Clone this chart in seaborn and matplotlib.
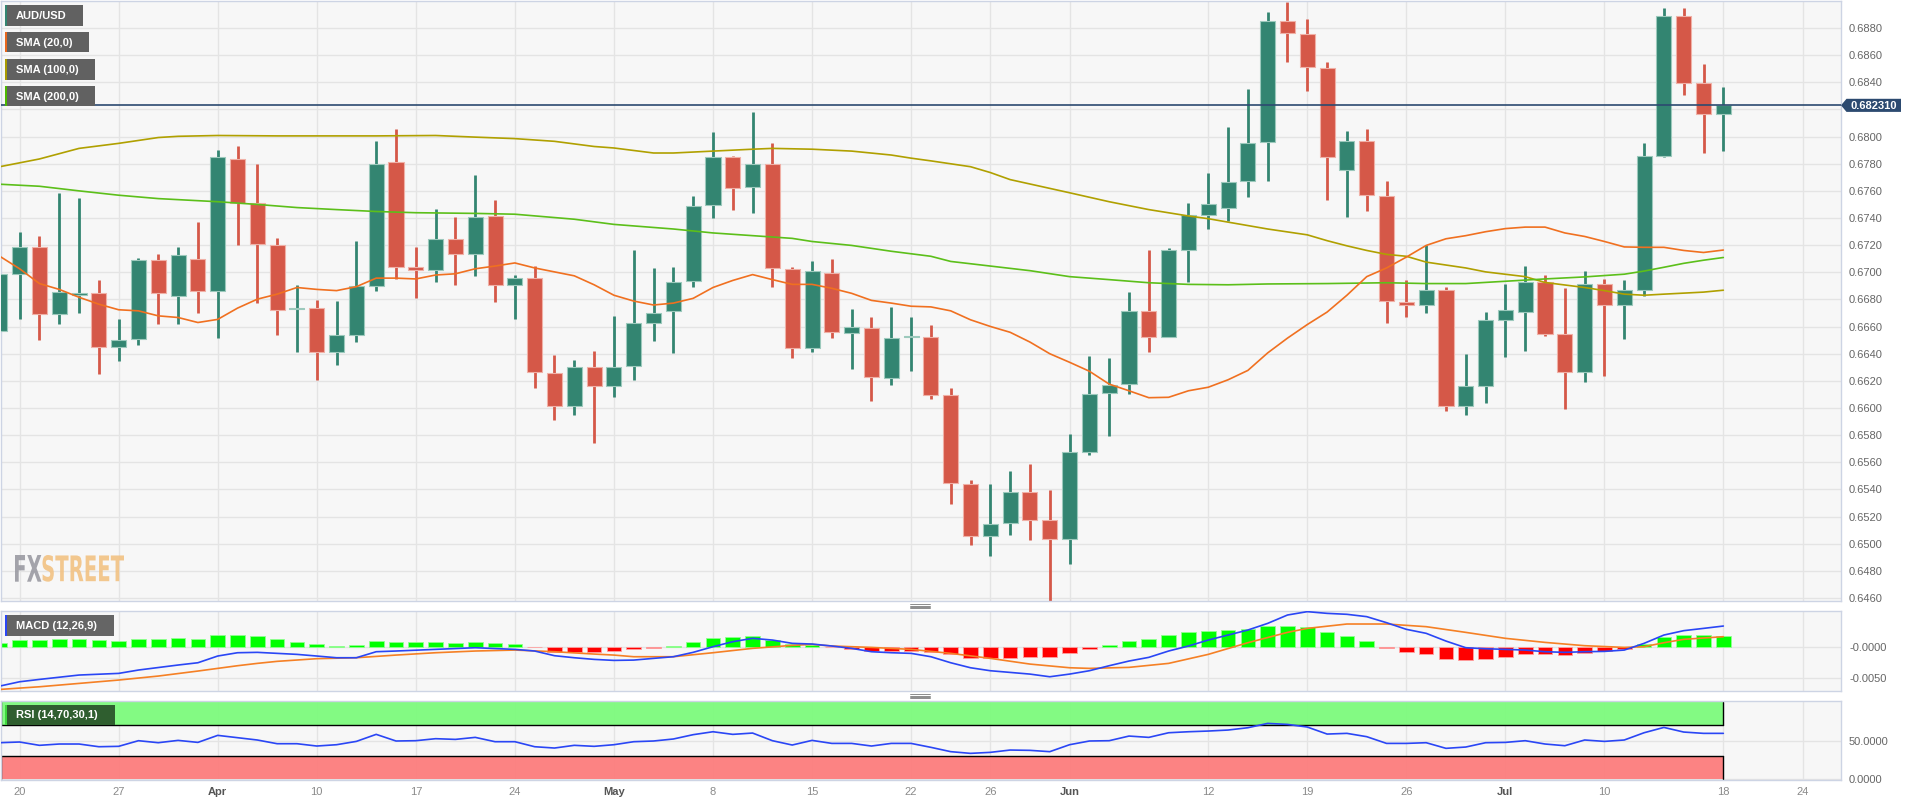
import matplotlib
matplotlib.use("Agg")
import matplotlib.pyplot as plt
import numpy as np
import pandas as pd
import seaborn as sns
from matplotlib.patches import Rectangle, Polygon, PathPatch
from matplotlib.textpath import TextPath
from matplotlib.font_manager import FontProperties
from matplotlib.transforms import Affine2D

# ---- data (AUD/USD daily, 17 Mar - 18 Jul 2023) ----
dates = pd.bdate_range("2023-03-17", "2023-07-18")

opens = [.66564, .66989, .67187, .66693, .66832, .66845, .66449, .66506, .67092, .66825,
         .67098, .66859, .67835, .67514, .67201, .66726, .66736, .66412, .66535, .66902,
         .67812, .67037, .67014, .67247, .67138, .67416, .66908, .66957, .66257, .66013,
         .66305, .66162, .66308, .66630, .66716, .66934, .67497, .67847, .67626, .67795,
         .67026, .66443, .66994, .66552, .66592, .66222, .66520, .66524, .66096, .65438,
         .65057, .65151, .65381, .65174, .65034, .65674, .66107, .66179, .66716, .66526,
         .67167, .67425, .67477, .67672, .67962, .68849, .68754, .68507, .67752, .67965,
         .67560, .66779, .66756, .66868, .66013, .66165, .66650, .66704, .66925, .66549,
         .66262, .66914, .66756, .66868, .67858, .68892, .68392, .68166]
highs = [.67238, .67299, .67264, .67586, .67548, .66940, .66658, .67103, .67132, .67184,
         .67373, .67899, .67927, .67801, .67250, .66908, .66796, .66788, .67233, .67965,
         .68059, .67190, .67468, .67411, .67715, .67534, .66983, .67046, .66392, .66357,
         .66423, .66681, .67167, .67035, .67040, .67563, .68031, .67858, .68180, .67956,
         .67040, .67083, .67095, .66730, .66673, .66747, .66673, .66615, .66150, .65467,
         .65438, .65533, .65588, .65395, .65812, .66386, .66371, .66854, .67167, .67180,
         .67508, .67735, .68071, .68352, .68921, .68989, .68869, .68547, .68042, .68059,
         .67675, .66940, .67204, .66894, .66400, .66710, .66917, .67049, .66983, .66882,
         .67006, .66954, .66946, .67956, .68949, .68949, .68533, .68369]
lows = [.66463, .66658, .66498, .66618, .66702, .66248, .66343, .66463, .66618, .66618,
        .66702, .66515, .67204, .66773, .66535, .66412, .66205, .66314, .66486, .66859,
        .66951, .66808, .66931, .66908, .66974, .66779, .66653, .66148, .65912, .65949,
        .65740, .66079, .66205, .66492, .66406, .66888, .67399, .67462, .67439, .66888,
        .66366, .66414, .66515, .66291, .66050, .66170, .66271, .66070, .65295, .64988,
        .64907, .65065, .65031, .64577, .64850, .65654, .65797, .66102, .66414, .66520,
        .66925, .67319, .67376, .67554, .67672, .68553, .68338, .67531, .67411, .67454,
        .66624, .66673, .66699, .65975, .65952, .66036, .66377, .66417, .66529, .65990,
        .66193, .66236, .66506, .66825, .67850, .68306, .67879, .67893]
closes = [.66989, .67187, .66693, .66854, .66840, .66449, .66501, .67092, .66845, .67126,
          .66859, .67850, .67514, .67210, .66722, .66734, .66412, .66535, .66902, .67798,
          .67037, .67014, .67247, .67138, .67411, .66908, .66957, .66262, .66013, .66305,
          .66162, .66305, .66630, .66699, .66928, .67491, .67847, .67623, .67795, .67032,
          .66443, .67009, .66558, .66595, .66228, .66515, .66528, .66099, .65444, .65057,
          .65146, .65381, .65177, .65034, .65674, .66102, .66170, .66716, .66526, .67161,
          .67419, .67505, .67669, .67956, .68849, .68760, .68510, .67853, .67967, .67566,
          .66785, .66756, .66868, .66013, .66165, .66650, .66725, .66925, .66549, .66262,
          .66914, .66756, .66868, .67858, .68892, .68395, .68166, .68231]
last_price = 0.682310

sma20_x = list(range(88))
sma20_y = [.67118, .67026, .66917, .66874, .66816, .66765, .66724, .66716, .66679, .66667,
           .66630, .66653, .66736, .66802, .66839, .66888, .66874, .66865, .66894, .66957,
           .66957, .66951, .66980, .66989, .67026, .67046, .67069, .67032, .67003, .66974,
           .66908, .66831, .66788, .66759, .66773, .66808, .66888, .66940, .66983, .66946,
           .66911, .66911, .66882, .66845, .66793, .66773, .66750, .66745, .66716, .66650,
           .66601, .66558, .66486, .66400, .66337, .66271, .66176, .66127, .66076, .66079,
           .66127, .66153, .66208, .66277, .66406, .66515, .66615, .66707, .66831, .66968,
           .67032, .67112, .67198, .67247, .67270, .67299, .67322, .67333, .67333, .67290,
           .67264, .67227, .67187, .67184, .67184, .67161, .67146, .67164]

sma100_x = [0, 2, 4, 6, 8, 9, 11, 14, 17, 19, 22, 24, 26, 28, 30, 31, 33, 34, 36, 38,
            39, 41, 43, 45, 46, 47, 49, 50, 51, 54, 56, 58, 60, 61, 64, 66, 67, 68, 69, 70,
            71, 72, 74, 75, 77, 78, 80, 81, 82, 83, 84, 86, 87]
sma100_y = [.67778, .67835, .67913, .67950, .67993, .68002, .68008, .68005, .68005, .68005,
            .68008, .67996, .67985, .67965, .67927, .67916, .67879, .67879, .67893, .67907,
            .67913, .67907, .67893, .67864, .67841, .67821, .67778, .67735, .67683, .67586,
            .67520, .67462, .67415, .67395, .67319, .67276, .67233, .67195, .67161, .67132,
            .67118, .67075, .67032, .67003, .66968, .66925, .66888, .66865, .66839, .66831,
            .66839, .66854, .66868]

sma200_x = [0, 2, 4, 6, 8, 11, 13, 15, 17, 19, 21, 24, 26, 29, 31, 34, 36, 38, 40, 41,
            43, 45, 47, 48, 50, 52, 54, 56, 58, 60, 62, 64, 67, 70, 72, 74, 76, 78, 80, 82,
            83, 84, 85, 86, 87]
sma200_y = [.67649, .67634, .67600, .67568, .67543, .67520, .67500, .67477, .67462, .67448,
            .67439, .67434, .67428, .67391, .67353, .67319, .67290, .67270, .67250, .67227,
            .67198, .67155, .67118, .67080, .67046, .67012, .66968, .66946, .66923, .66911,
            .66908, .66914, .66917, .66923, .66917, .66917, .66934, .66951, .66966, .66986,
            .67009, .67037, .67066, .67089, .67109]

macd_hist = [.00053, .00105, .00105, .00116, .00121, .00100, .00090, .00116, .00116, .00137,
             .00126, .00184, .00189, .00168, .00116, .00079, .00037, .00010, .00026, .00090,
             .00068, .00068, .00068, .00063, .00079, .00053, .00037, -.00010, -.00079, -.00084,
             -.00084, -.00074, -.00042, -.00016, .00016, .00074, .00132, .00147, .00163, .00105,
             .00042, .00026, -.00010, -.00042, -.00063, -.00063, -.00063, -.00079, -.00121, -.00184,
             -.00184, -.00174, -.00158, -.00158, -.00095, -.00032, .00026, .00095, .00121, .00184,
             .00226, .00247, .00263, .00274, .00326, .00332, .00305, .00226, .00168, .00095,
             -.00016, -.00079, -.00116, -.00189, -.00216, -.00195, -.00168, -.00121, -.00121, -.00132,
             -.00095, -.00074, -.00042, .00042, .00153, .00184, .00184, .00168]

macd_x = [0, 1, 2, 4, 6, 7, 9, 10, 11, 12, 13, 14, 15, 16, 17, 18, 19, 20, 22, 24,
          26, 27, 28, 29, 30, 31, 32, 33, 34, 35, 36, 37, 38, 39, 40, 41, 42, 43, 44, 45,
          46, 47, 48, 49, 50] + list(range(52, 88))
macd_y = [-.00621, -.00553, -.00516, -.00447, -.00421, -.00368, -.00289, -.00253, -.00147, -.00095,
          -.00089, -.00105, -.00121, -.00147, -.00174, -.00174, -.00079, -.00068, -.00042, -.00016,
          -.00042, -.00068, -.00142, -.00174, -.00200, -.00216, -.00211, -.00184, -.00158, -.00089,
          0.0, .00079, .00132, .00105, .00053, .00042, .00011, -.00026, -.00079, -.00095,
          -.00105, -.00158, -.00253, -.00332, -.00379,
          -.00432, -.00474, -.00432, -.00379, -.00300, -.00226, -.00168, -.00068, .00011, .00105,
          .00184, .00263, .00368, .00500, .00553, .00526, .00511, .00474, .00379, .00274,
          .00211, .00089, -.00016, -.00032, -.00042, -.00053, -.00079, -.00089, -.00079, -.00074,
          -.00053, .00053, .00184, .00253, .00289, .00326]

signal_x = [0, 2, 4, 6, 8, 10, 11, 12, 13, 14, 16, 18, 20, 22, 24, 26, 28, 30, 31, 32,
            34, 36, 38, 40, 41, 42, 44, 46, 48, 50, 52, 54, 55, 57, 59, 61, 63, 65, 66, 68,
            70, 72, 74, 76, 78, 80, 82, 83, 84, 85, 87]
signal_y = [-.00674, -.00632, -.00579, -.00526, -.00463, -.00384, -.00342, -.00300, -.00263, -.00231,
            -.00189, -.00174, -.00132, -.00095, -.00068, -.00053, -.00079, -.00116, -.00132, -.00158,
            -.00158, -.00095, -.00026, .00021, .00037, .00011, -.00011, -.00042, -.00105, -.00184,
            -.00274, -.00332, -.00342, -.00326, -.00263, -.00121, .00063, .00226, .00289, .00358,
            .00358, .00316, .00226, .00132, .00068, .00016, -.00011, 0.0, .00063, .00116,
            .00158]

rsi = [47.4, 48.3, 44.0, 45.7, 45.7, 42.2, 42.7, 50.0, 47.4, 50.4,
       47.8, 56.9, 53.9, 50.9, 46.1, 46.1, 43.1, 44.8, 49.1, 58.2,
       49.6, 50.0, 52.6, 51.7, 54.3, 48.7, 48.7, 42.2, 40.5, 44.0,
       42.7, 44.8, 48.7, 49.6, 52.2, 57.8, 61.6, 58.2, 59.9, 50.0,
       44.4, 50.4, 46.5, 46.5, 43.1, 46.5, 46.5, 41.4, 35.8, 33.6,
       34.9, 37.9, 37.5, 35.8, 44.8, 49.6, 50.0, 56.0, 54.3, 60.3,
       61.6, 62.5, 63.8, 66.8, 72.4, 71.1, 67.7, 58.6, 59.5, 55.2,
       46.5, 46.5, 47.4, 40.1, 41.8, 47.4, 47.8, 50.0, 45.7, 43.5,
       50.9, 49.1, 50.9, 60.3, 67.2, 61.2, 59.5, 59.5]

tick_pos = [1, 6, 11, 16, 21, 26, 31, 36, 41, 46, 50, 54, 61, 66, 71, 76, 81, 87, 91]
tick_labels = ["20", "27", "Apr", "10", "17", "24", "May", "8", "15", "22", "26",
               "Jun", "12", "19", "26", "Jul", "10", "18", "24"]
month_labels = {"Apr", "May", "Jun", "Jul"}

# ---- styling ----
sns.set_theme(style="white")
plt.rcParams["font.family"] = ["Liberation Sans", "DejaVu Sans"]

GREEN = "#338571"
RED = "#d55848"
NAVY = "#2c4a70"
GRID = "#e4e4e4"
BORDER = "#cdd4e4"
PANEL = "#f7f7f7"

W, H = 1918, 806
fig = plt.figure(figsize=(W / 100, H / 100), dpi=100)
fig.patch.set_facecolor("white")


def px_axes(x0, y0, x1, y1):
    # pixel box measured from the top-left of the figure
    return fig.add_axes([x0 / W, 1 - y1 / H, (x1 - x0) / W, (y1 - y0) / H])


ax = px_axes(0.5, 1, 1841, 601)
ax_macd = px_axes(0.5, 610.7, 1841, 690.7)
ax_rsi = px_axes(0.5, 700.7, 1841, 780)
XL = (0.036, 92.94)

for a in (ax, ax_macd, ax_rsi):
    a.set_facecolor(PANEL)
    a.set_xlim(*XL)
    a.set_xticks(tick_pos)
    a.grid(True, color=GRID, linewidth=1)
    a.set_axisbelow(True)
    a.yaxis.tick_right()
    a.tick_params(axis="y", length=0, pad=5.8, labelsize=8, labelcolor="#666666")
    a.tick_params(axis="x", length=0, labelbottom=False)
    for s in a.spines.values():
        s.set_color(BORDER)
        s.set_linewidth(1)

# ---- main candlestick panel ----
x = np.arange(len(dates))
o = np.array(opens)
c = np.array(closes)
up = c >= o
cols = np.where(up, GREEN, RED)
edges = np.where(up, "#9cc9bc", "#f0b0a6")
ax.vlines(x, lows, highs, colors=cols, linewidth=2, zorder=2)
body = np.maximum(np.abs(c - o), 0.00012)
ax.bar(x, body, bottom=np.minimum(o, c), width=0.76, color=cols,
       edgecolor=edges, linewidth=0.8, zorder=3)

sns.lineplot(x=sma100_x, y=sma100_y, ax=ax, color="#b0a000", linewidth=1.2, zorder=4)
sns.lineplot(x=sma200_x, y=sma200_y, ax=ax, color="#5cbf1a", linewidth=1.2, zorder=4)
sns.lineplot(x=sma20_x, y=sma20_y, ax=ax, color="#f07020", linewidth=1.2, zorder=4)
ax.axhline(last_price, color=NAVY, linewidth=1.2, zorder=5)

ax.set_ylim(0.64578, 0.68999)
yt = np.round(np.arange(0.6460, 0.68801, 0.002), 4)
ax.set_yticks(yt)
# the 0.6820 label sits under the last-price tag, so it is left blank
ax.set_yticklabels(["" if abs(v - 0.682) < 1e-6 else f"{v:.4f}" for v in yt])
ax.set_xlabel("")
ax.set_ylabel("")

# ---- MACD panel ----
hist_cols = ["#00ff00" if v >= 0 else "#ff0000" for v in macd_hist]
hist_edge = ["#90ff90" if v >= 0 else "#ffa0a0" for v in macd_hist]
ax_macd.bar(x, macd_hist, width=0.74, color=hist_cols, edgecolor=hist_edge,
            linewidth=0.6, zorder=2)
sns.lineplot(x=signal_x, y=signal_y, ax=ax_macd, color="#f58025", linewidth=1.2, zorder=3)
sns.lineplot(x=macd_x, y=macd_y, ax=ax_macd, color="#2a46f5", linewidth=1.2, zorder=4)
ax_macd.set_ylim(-0.00694, 0.00568)
ax_macd.set_yticks([-0.005, 0.0])
ax_macd.set_yticklabels(["-0.0050", "-0.0000"])
ax_macd.set_xlabel("")
ax_macd.set_ylabel("")

# ---- RSI panel ----
ax_rsi.add_patch(Rectangle((XL[0], 70), 87 - XL[0], 30, facecolor="#7dfb7d",
                           edgecolor="none", alpha=0.95, zorder=1))
ax_rsi.add_patch(Rectangle((XL[0], 0), 87 - XL[0], 30, facecolor="#fd7d7d",
                           edgecolor="none", alpha=0.95, zorder=1))
for yy in (70, 30):
    ax_rsi.plot([XL[0], 87], [yy, yy], color="black", linewidth=1, zorder=2)
ax_rsi.plot([87, 87], [70, 100], color="black", linewidth=1, zorder=2)
ax_rsi.plot([87, 87], [0, 30], color="black", linewidth=1, zorder=2)
ax_rsi.plot([XL[0] + 0.05, XL[0] + 0.05], [0, 30], color="black", linewidth=1, zorder=2)
ax_rsi.plot([XL[0] + 0.05, XL[0] + 0.05], [70, 100], color="black", linewidth=1, zorder=2)
sns.lineplot(x=x, y=rsi, ax=ax_rsi, color="#2a46f5", linewidth=1.2, zorder=3)
ax_rsi.set_ylim(-0.9, 101.8)
ax_rsi.set_yticks([0, 50])
ax_rsi.set_yticklabels(["0.0000", "50.0000"])
ax_rsi.set_xlabel("")
ax_rsi.set_ylabel("")
ax_rsi.tick_params(axis="x", labelbottom=True, pad=5, labelsize=8)
ax_rsi.set_xticklabels(tick_labels)
for lab in ax_rsi.get_xticklabels():
    if lab.get_text() in month_labels:
        lab.set_color("#555555")
        lab.set_fontweight("bold")
    else:
        lab.set_color("#8a8a8a")


# ---- overlays in figure pixel coordinates ----
def fbox(x0, y0, x1, y1, color, z=5):
    fig.add_artist(Rectangle((x0 / W, 1 - y1 / H), (x1 - x0) / W, (y1 - y0) / H,
                             transform=fig.transFigure, facecolor=color,
                             edgecolor="none", zorder=z))


def ftext(xp, yp, s, **kw):
    fig.text(xp / W, 1 - yp / H, s, va="center", zorder=6, **kw)


legend = [("AUD/USD", 5, 25.6, 82.7, GREEN),
          ("SMA (20,0)", 31.8, 52.4, 88.7, "#e8671e"),
          ("SMA (100,0)", 59, 79.6, 94.7, "#a89a00"),
          ("SMA (200,0)", 85.8, 106.4, 94.7, "#4cb800")]
for name, y0, y1, x1, col in legend:
    fbox(5, y0, x1, y1, "#616161")
    fbox(5, y0, 7, y1, col)
    ftext(16, (y0 + y1) / 2 + 0.5, name, color="white", fontsize=8, fontweight="bold")

fbox(5, 615, 114, 635.7, "#656565")
fbox(5, 615, 7, 635.7, "#2a46f5")
ftext(16, 625.8, "MACD (12,26,9)", color="white", fontsize=8, fontweight="bold")

fbox(5, 705.3, 115, 725.3, "#2f5e2f")
fbox(5, 705.3, 7, 725.3, "#3fd83f")
ftext(16, 715.5, "RSI (14,70,30,1)", color="white", fontsize=8, fontweight="bold")

# price tag on the right axis
tag = [(1841, 105.3), (1846.5, 98.8), (1901, 98.8), (1901, 111.9), (1846.5, 111.9)]
fig.add_artist(Polygon([(px / W, 1 - py / H) for px, py in tag], closed=True,
                       transform=fig.transFigure, facecolor=NAVY, edgecolor="none", zorder=5))
ftext(1873.5, 105.6, "0.682310", color="white", fontsize=8, fontweight="bold", ha="center")

# panel handles
for yc in (606.2, 696.2):
    for k in range(4):
        yy = yc - 2.1 + k * 1.4
        fig.add_artist(plt.Line2D([910 / W, 930 / W], [1 - yy / H, 1 - yy / H],
                                  transform=fig.transFigure, color="#7a7a7a",
                                  linewidth=0.6, zorder=5))


# FXSTREET watermark
def logo(s, x0, x1, y0, y1, color):
    tp = TextPath((0, 0), s, size=100, prop=FontProperties(family="DejaVu Sans", weight="bold"))
    bb = tp.get_extents()
    tr = (Affine2D().translate(-bb.x0, -bb.y0)
          .scale((x1 - x0) / bb.width / W, (y1 - y0) / bb.height / H)
          .translate(x0 / W, 1 - y1 / H) + fig.transFigure)
    fig.add_artist(PathPatch(tp, transform=tr, facecolor=color, edgecolor="none",
                             alpha=0.9, zorder=5))


logo("FX", 15, 41.5, 555, 581.7, "#9a9aa2")
logo("STREET", 42.5, 124, 555, 581.7, "#f2c283")

fig.savefig("out.png", dpi=100, facecolor="white")
